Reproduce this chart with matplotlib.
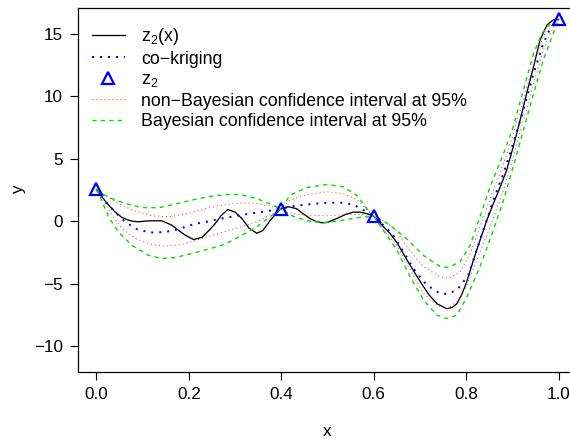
import matplotlib
matplotlib.use('Agg')
import matplotlib.pyplot as plt
from matplotlib.lines import Line2D

plt.rcParams['font.family'] = ['Liberation Sans', 'DejaVu Sans']
plt.rcParams['mathtext.default'] = 'regular'
plt.rcParams['font.size'] = 12.3

# données
x_obs = [0.0, 0.4, 0.6, 1.0]
z2_obs = [2.53, 1.0, 0.4, 16.13]

x_true = [0.0, 0.02, 0.04, 0.055, 0.069, 0.08, 0.091, 0.105, 0.12, 0.141, 0.163, 0.178,
          0.192, 0.21, 0.228, 0.242, 0.257, 0.27, 0.284, 0.30, 0.315, 0.33, 0.347, 0.36,
          0.376, 0.39, 0.40, 0.415, 0.433, 0.447, 0.462, 0.475, 0.488, 0.50, 0.52, 0.54,
          0.556, 0.57, 0.585, 0.60, 0.62, 0.635, 0.65, 0.672, 0.69, 0.708, 0.72, 0.737,
          0.758, 0.77, 0.78, 0.79, 0.80, 0.81, 0.823, 0.835, 0.845, 0.86, 0.874, 0.888,
          0.902, 0.913, 0.924, 0.935, 0.946, 0.96, 0.975, 0.989, 1.0]
z2_true = [2.53, 1.55, 0.74, 0.3, 0.08, -0.02, -0.05, 0.0, 0.03, 0.03, -0.32, -0.75,
           -1.12, -1.47, -1.3, -0.8, -0.19, 0.45, 0.93, 0.72, 0.2, -0.55, -0.97, -0.75,
           0.05, 0.65, 1.0, 1.15, 1.0, 0.6, 0.21, -0.02, -0.13, -0.1, 0.21, 0.55,
           0.72, 0.72, 0.6, 0.4, -0.4, -0.97, -1.7, -3.1, -4.2, -5.25, -5.9, -6.6,
           -7.0, -6.9, -6.6, -5.9, -5.0, -3.8, -2.3, -1.0, 0.08, 1.5, 2.75, 4.1,
           5.95, 7.5, 9.15, 10.8, 12.35, 14.48, 15.68, 16.1, 16.13]

x_ck = [0.0, 0.019, 0.04, 0.062, 0.087, 0.116, 0.148, 0.177, 0.21, 0.239, 0.271, 0.304,
        0.347, 0.383, 0.4, 0.426, 0.455, 0.498, 0.531, 0.556, 0.574, 0.6, 0.621, 0.64,
        0.657, 0.686, 0.715, 0.744, 0.758, 0.78, 0.805, 0.83, 0.859, 0.881, 0.902, 0.924,
        0.946, 0.967, 0.982, 1.0]
y_ck = [2.53, 1.55, 0.74, -0.05, -0.64, -0.91, -0.88, -0.64, -0.24, -0.05, 0.21, 0.43,
        0.69, 0.88, 1.0, 1.2, 1.33, 1.47, 1.47, 1.33, 0.96, 0.4, -0.32, -1.0,
        -2.0, -3.79, -5.12, -5.79, -5.82, -5.52, -4.32, -1.52, 1.68, 3.82, 6.22, 8.88,
        11.82, 14.2, 15.4, 16.13]

x_nb_up = [0.0, 0.019, 0.047, 0.084, 0.12, 0.156, 0.192, 0.228, 0.264, 0.30, 0.322, 0.347,
           0.376, 0.4, 0.419, 0.455, 0.498, 0.534, 0.563, 0.585, 0.6, 0.628, 0.65, 0.672,
           0.708, 0.744, 0.762, 0.787, 0.809, 0.83, 0.859, 0.881, 0.902, 0.924, 0.946,
           0.967, 0.986, 1.0]
y_nb_up = [2.53, 2.08, 1.41, 0.8, 0.43, 0.35, 0.56, 0.93, 1.23, 1.41, 1.47, 1.41,
           1.2, 1.0, 1.68, 2.13, 2.35, 2.21, 1.73, 0.93, 0.4, -0.1, -0.8, -2.05,
           -3.65, -4.45, -4.59, -4.05, -2.59, -0.45, 2.48, 4.61, 7.01, 9.68, 12.6,
           14.75, 15.7, 16.13]

x_nb_lo = [0.0, 0.011, 0.033, 0.055, 0.084, 0.12, 0.148, 0.185, 0.221, 0.264, 0.30, 0.322,
           0.347, 0.383, 0.4, 0.412, 0.455, 0.498, 0.542, 0.578, 0.6, 0.621, 0.65, 0.679,
           0.708, 0.737, 0.758, 0.78, 0.80, 0.823, 0.852, 0.881, 0.902, 0.924, 0.946,
           0.967, 0.982, 1.0]
y_nb_lo = [2.53, 1.95, 0.48, -0.59, -1.39, -1.87, -2.0, -1.87, -1.47, -0.99, -0.59, -0.35,
           -0.05, 0.61, 1.0, 0.67, 0.48, 0.43, 0.53, 0.53, 0.4, -0.72, -1.9, -3.92,
           -5.79, -6.72, -7.0, -6.45, -5.25, -3.12, -0.45, 2.48, 5.15, 8.08, 11.0,
           13.68, 15.0, 16.13]

x_b_up = [0.0, 0.011, 0.033, 0.062, 0.098, 0.134, 0.17, 0.206, 0.242, 0.278, 0.311, 0.347,
          0.376, 0.4, 0.419, 0.455, 0.498, 0.534, 0.563, 0.585, 0.6, 0.628, 0.65, 0.672,
          0.708, 0.744, 0.762, 0.787, 0.809, 0.83, 0.852, 0.881, 0.902, 0.924, 0.946,
          0.964, 0.982, 1.0]
y_b_up = [2.53, 2.21, 1.81, 1.41, 1.09, 1.07, 1.36, 1.68, 1.95, 2.13, 2.13, 1.81,
          1.36, 1.0, 2.08, 2.69, 2.93, 2.75, 2.08, 1.01, 0.4, -0.15, -0.75, -1.45,
          -2.75, -3.65, -3.7, -3.25, -1.9, 0.35, 2.75, 5.41, 7.55, 10.48, 13.4,
          15.0, 15.8, 16.13]

x_b_lo = [0.0, 0.008, 0.026, 0.047, 0.076, 0.112, 0.141, 0.17, 0.206, 0.242, 0.278, 0.311,
          0.347, 0.376, 0.4, 0.419, 0.455, 0.491, 0.527, 0.563, 0.6, 0.628, 0.65, 0.679,
          0.708, 0.737, 0.758, 0.78, 0.80, 0.83, 0.859, 0.881, 0.902, 0.924, 0.946,
          0.967, 0.986, 1.0]
y_b_lo = [2.53, 1.95, 0.35, -0.85, -1.92, -2.72, -2.99, -2.91, -2.59, -2.24, -1.84, -1.2,
          -0.45, 0.35, 1.0, 0.48, 0.03, -0.13, 0.03, 0.27, 0.4, -1.12, -2.3, -4.45,
          -6.32, -7.52, -7.79, -7.52, -6.19, -3.65, -0.72, 1.68, 4.35, 7.28, 10.2,
          12.88, 14.75, 16.13]

x_ticks = [0.0, 0.2, 0.4, 0.6, 0.8, 1.0]
x_ticklabels = ['0.0', '0.2', '0.4', '0.6', '0.8', '1.0']
y_ticks = [-10, -5, 0, 5, 10, 15]

labels = ['z$_2$(x)', 'co\u2212kriging', 'z$_2$',
          'non\u2212Bayesian confidence interval at 95%',
          'Bayesian confidence interval at 95%']

W, H = 570, 441
fig = plt.figure(figsize=(W / 100, H / 100), dpi=100)
# la boîte du graphique dépasse à droite (image rognée)
ax = fig.add_axes([78 / W, 1 - 372 / H, (577 - 78) / W, (372 - 8) / H])

px = 0.72  # 1 pixel en points
style_true = dict(color='black', lw=1.3 * px, ls='-')
style_ck = dict(color='blue', lw=2 * px, ls=(0, (1, 3)))
style_nb = dict(color='#ff3030', lw=1 * px, ls=(0, (1, 3)))
style_b = dict(color='#00dd00', lw=1.4 * px, ls=(0, (3, 3)))
style_obs = dict(ls='none', marker='^', ms=8.5, mfc='none', mec='blue', mew=1.6)

ax.plot(x_true, z2_true, **style_true)
ax.plot(x_ck, y_ck, **style_ck)
ax.plot(x_nb_up, y_nb_up, **style_nb)
ax.plot(x_nb_lo, y_nb_lo, **style_nb)
ax.plot(x_b_up, y_b_up, **style_b)
ax.plot(x_b_lo, y_b_lo, **style_b)
ax.plot(x_obs, z2_obs, clip_on=False, **style_obs)

ax.set_xlim(-0.04, 1.04)
ax.set_ylim(-12.06, 17.04)
ax.set_xticks(x_ticks)
ax.set_xticklabels(x_ticklabels)
ax.set_yticks(y_ticks)
ax.tick_params(direction='out', length=6, width=0.8, pad=5, top=False, right=False)
for s in ax.spines.values():
    s.set_linewidth(0.9)

fig.text(327.5 / W, 1 - 432 / H, 'x', ha='center', va='center')
fig.text(19 / W, 1 - 190 / H, 'y', ha='center', va='center', rotation=90)

handles = [Line2D([], [], **style_true),
           Line2D([], [], **style_ck),
           Line2D([], [], **style_obs),
           Line2D([], [], **style_nb),
           Line2D([], [], **style_b)]
fig.legend(handles, labels, loc='upper left', bbox_to_anchor=(92 / W, 1 - 26 / H),
           bbox_transform=fig.transFigure, frameon=False, borderpad=0, borderaxespad=0,
           fontsize=12.8, handlelength=1.85, handletextpad=0.9, labelspacing=0.2)

fig.savefig('out.png', dpi=100)
